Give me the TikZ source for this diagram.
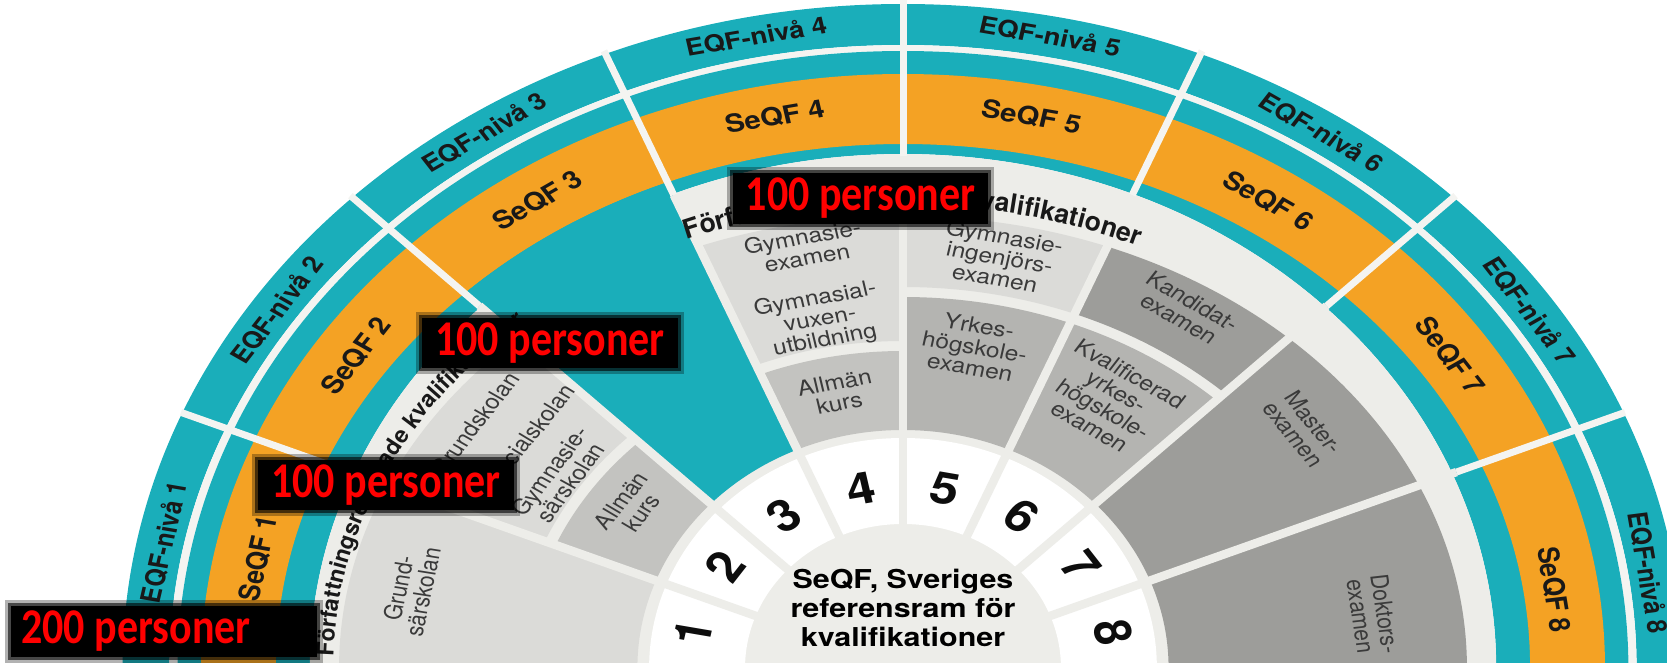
\documentclass[tikz,border=0pt]{standalone}
\usepackage{fontspec}
\setmainfont{TeX Gyre Heros}
\newfontfamily\boxfont[FakeStretch=0.84]{Carlito}
\usetikzlibrary{decorations.text}

\definecolor{qfteal}{HTML}{1AAEBA}
\definecolor{qforange}{HTML}{F4A224}
\definecolor{qfband}{HTML}{EDEDE9}
\definecolor{qfgap}{HTML}{F4F4F1}
\definecolor{qflight}{HTML}{DBDBD8}
\definecolor{qfmid}{HTML}{C3C3C0}
\definecolor{qfmidd}{HTML}{B4B4B1}
\definecolor{qfdark}{HTML}{9D9D9A}
\definecolor{qftext}{HTML}{3A3A3A}

% filled ring piece: colour, from angle, to angle, outer x/y radius, inner x/y radius
\newcommand{\ringcell}[7]{%
  \begin{scope}
    \clip (0,0) -- (#2:950) arc[start angle=#2, end angle=#3, radius=950] -- cycle;
    \fill[#1, even odd rule] (0,0) ellipse[x radius=#4, y radius=#5] (0,0) ellipse[x radius=#6, y radius=#7];
  \end{scope}}
\newcommand{\bandfont}{\bfseries\fontsize{23}{23}\selectfont}
\newcommand{\bandfonttop}{\bfseries\fontsize{26.5}{26.5}\selectfont}

\tikzset{
  eqflabel/.style={font=\bfseries\fontsize{23.5}{23.5}\selectfont, text=black!90, transform shape},
  seqflabel/.style={font=\bfseries\fontsize{25}{25}\selectfont, text=black!90, transform shape},
  numlabel/.style={font=\bfseries\fontsize{44}{44}\selectfont, text=black!95, transform shape},
  celllabel/.style={font=\fontsize{21}{21}\selectfont, text=qftext, align=center, transform shape},
  innergap/.style={draw=qfband, line width=8.5pt},
  outergap/.style={draw=qfgap, line width=7pt},
  personbox/.style={fill=black, text=red, font=\boxfont\bfseries\fontsize{50}{50}\selectfont,
    inner xsep=13pt, inner ysep=5pt,
    preaction={draw=black, line width=12pt, opacity=0.3, rounded corners=6pt},
    preaction={draw=black, line width=6pt, opacity=0.6, rounded corners=3pt}},
}

\begin{document}
\begin{tikzpicture}[x=1pt, y=1pt]
\useasboundingbox (-903,6) rectangle (764,668);
\clip (-903,6) rectangle (764,668);

\begin{scope}[xscale=1.17]
  % EQF and SeQF rings
  \ringcell{qfteal}{0}{180}{667}{664}{627}{623}
  \ringcell{qfgap}{0}{180}{627}{623}{620}{617}
  \ringcell{qfteal}{0}{180}{620}{617}{507}{514}
  \ringcell{qforange}{0}{180}{600}{594}{536}{524}
  \fill[qfband] (0:507) arc[start angle=0, end angle=180, x radius=507, y radius=514] -- cycle;

  % level 3 has no qualifications
  \ringcell{qfteal}{112.5}{135}{536}{524}{227}{238}

  % qualification cells
  \ringcell{qflight}{157.5}{180}{482}{452}{227}{238}
  \ringcell{qflight}{135}{157.5}{482}{452}{332}{327}
  \ringcell{qfmid}{135}{157.5}{322}{317}{227}{238}
  \ringcell{qflight}{90}{112.5}{482}{452}{332}{327}
  \ringcell{qfmid}{90}{112.5}{322}{317}{227}{238}
  \ringcell{qflight}{67.5}{90}{482}{452}{397}{381}
  \ringcell{qfmidd}{67.5}{90}{387}{371}{227}{238}
  \ringcell{qfdark}{45}{67.5}{482}{452}{397}{381}
  \ringcell{qfmidd}{45}{67.5}{387}{371}{227}{238}
  \ringcell{qfdark}{22.5}{45}{482}{452}{227}{238}
  \ringcell{qfdark}{0}{22.5}{482}{452}{227}{238}

  % level numbers ring
  \ringcell{white}{0}{180}{217}{230}{135}{144}

  % gaps between the levels
  \foreach \ang in {22.5,45,67.5,90,112.5,135,157.5} {
    \draw[innergap] (\ang:125) -- (\ang:512);
    \draw[outergap] (\ang:512) -- (\ang:668);
  }

  % ring labels
  \foreach \lvl/\ang in {1/168.75,2/146.25,3/123.75,4/101.25,5/78.75,6/56.25,7/33.75,8/8.5} {
    \node[eqflabel, rotate={\ang-90}] (eqf\lvl) at (\ang:644) {EQF-nivå \lvl};
  }
  \foreach \lvl/\ang in {1/168.75,2/146.25,3/123.75,4/101.25,5/78.75,6/56.25,7/33.75,8/8} {
    \node[seqflabel, rotate={\ang-90}] (seqf\lvl) at (\ang:562) {SeQF \lvl};
  }
  \foreach \lvl/\ang in {1/168.75,2/146.25,3/123.75,4/101.25,5/78.75,6/56.25,7/33.75,8/11.25}
    \node[numlabel, rotate={\ang-90}] (num\lvl) at (\ang:183) {\lvl};

  \node[font=\bfseries\fontsize{26}{29}\selectfont, align=center, transform shape] (core) at (0,60)
    {SeQF, Sveriges\\referensram för\\kvalifikationer};

  % regulated qualifications band
  \path[decorate, decoration={text along path, text align=left, text color=black!90,
      text={|\bandfont|Författningsreglerade kvalifikationer}}]
    (178.6:487 and 463) arc[start angle=178.6, end angle=100, x radius=487, y radius=463];
  \path[decorate, decoration={text along path, text align=left, text color=black!90,
      text={|\bandfonttop|Författningsreglerade kvalifikationer}}]
    (112.3:487 and 463) arc[start angle=112.3, end angle=30, x radius=487, y radius=463];

  % qualification names
  \foreach \ang/\rad/\txt [count=\k] in {
      169.5/428/{Grund-\\särskolan}, 146.3/440/{Grundskolan}, 144.7/393/{Specialskolan},
      146.9/350/{Gymnasie-\\särskolan}, 145.2/283/{Allmän\\kurs},
      101.3/429/{Gymnasie-\\examen}, 101.5/355/{Gymnasial-\\vuxen-\\utbildning}, 101.6/281/{Allmän\\kurs},
      78.6/419/{Gymnasie-\\ingenjörs-\\examen}, 79.2/327/{Yrkes-\\högskole-\\examen},
      56/432/{Kandidat-\\examen}, 56.6/321/{Kvalificerad\\yrkes-\\högskole-\\examen},
      35/418/{Master-\\examen}, 7.5/405/{Doktors-\\examen}}
    \node[celllabel, rotate={\ang-90}] (qual\k) at (\ang:\rad) {\txt};
\end{scope}

% head counts
\node[personbox] (count4) at (-42.5,469.5) {100 personer};
\node[personbox] (count2) at (-353,325) {100 personer};
\node[personbox] (count1) at (-517,183) {100 personer};
\node[personbox, inner xsep=10pt] (count0) at (-739,36.5) {200 personer\hspace*{56pt}};
\end{tikzpicture}
\end{document}
